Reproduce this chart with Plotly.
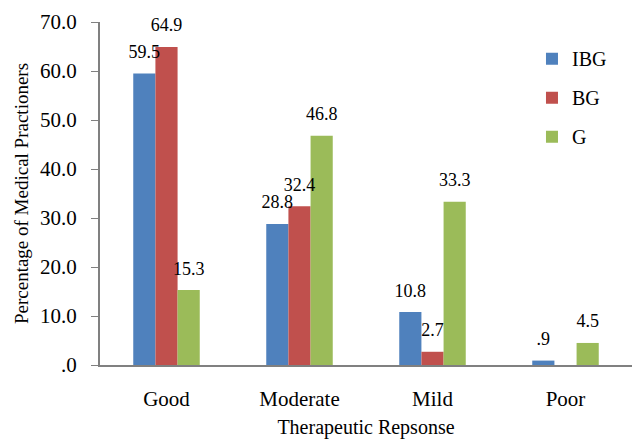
import plotly.graph_objects as go

categories = ["Good", "Moderate", "Mild", "Poor"]
ibg = [59.5, 28.8, 10.8, 0.9]
bg = [64.9, 32.4, 2.7, 0.0]
g = [15.3, 46.8, 33.3, 4.5]
y_ticks = [0, 10, 20, 30, 40, 50, 60, 70]
y_tick_labels = [".0", "10.0", "20.0", "30.0", "40.0", "50.0", "60.0", "70.0"]


def lab(vals):
    out = []
    for v in vals:
        if v == 0:
            out.append("")
        else:
            s = f"{v:.1f}"
            if s.startswith("0"):
                s = s[1:]
            out.append(s)
    return out


font = "Liberation Serif, Times New Roman, serif"
series = [("IBG", ibg, "#4F81BD"), ("BG", bg, "#C0504D"), ("G", g, "#9BBB59")]
fig = go.Figure()
for name, vals, col in series:
    fig.add_trace(go.Bar(
        x=categories, y=vals, name=name, marker_color=col, marker_line_width=0,
        offsetgroup=name, legendgroup=name,
    ))
for name, vals, col in series:
    fig.add_trace(go.Scatter(
        x=categories, y=vals, mode="markers+text", text=lab(vals),
        textposition="top center", offsetgroup=name, showlegend=False,
        marker=dict(size=16, opacity=0), cliponaxis=False, hoverinfo="skip",
        textfont=dict(family=font, size=18, color="black"),
    ))

fig.update_layout(
    width=632, height=432,
    margin=dict(l=92, r=8, t=14, b=75),
    paper_bgcolor="white", plot_bgcolor="white",
    barmode="group", bargap=0.5, bargroupgap=0,
    scattermode="group", scattergap=0.5,
    font=dict(family=font, size=20, color="black"),
    legend=dict(x=0.812, y=0.95, xanchor="left", yanchor="top",
                font=dict(family=font, size=20), traceorder="grouped",
                tracegroupgap=10, itemwidth=30, bgcolor="rgba(0,0,0,0)"),
    xaxis=dict(
        automargin=False,
        showline=True, linecolor="#808080", linewidth=2,
        ticks="outside", ticklen=14, tickcolor="rgba(0,0,0,0)",
        tickfont=dict(family=font, size=21),
        title=dict(text="Therapeutic Repsonse", font=dict(family=font, size=20), standoff=10),
    ),
    yaxis=dict(
        automargin=False,
        range=[0, 70], tickvals=y_ticks, ticktext=y_tick_labels,
        showline=True, linecolor="#808080", linewidth=2, ticks="outside",
        tickcolor="#808080", ticklen=7, showgrid=False, zeroline=False,
        ticklabelstandoff=10,
        tickfont=dict(family=font, size=21),
        title=dict(text="Percentage of Medical Practioners", font=dict(family=font, size=19), standoff=6),
    ),
)
fig.write_html("out.html")
